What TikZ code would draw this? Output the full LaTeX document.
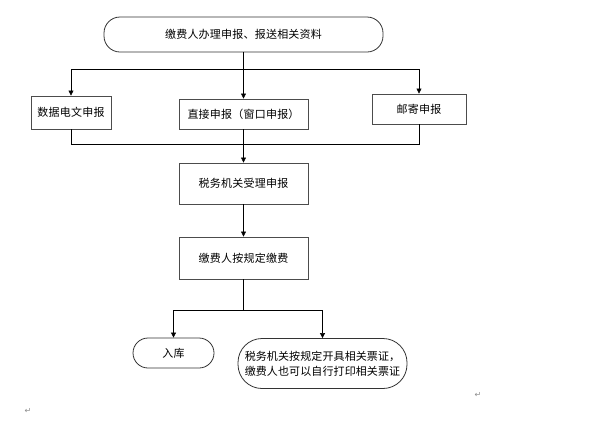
\documentclass[tikz,border=0pt]{standalone}
\usepackage{fontspec}
\setmainfont{Noto Sans CJK SC}[LetterSpace=2]
\newfontfamily\symfont{DejaVu Sans}
\usetikzlibrary{arrows.meta}
\begin{document}
\begin{tikzpicture}[x=1pt,y=-1pt,
  box/.style={draw=black!70,line width=0.9pt,rectangle,inner sep=0pt,font=\fontsize{11}{13}\selectfont},
  rbox/.style={draw=black!80,line width=0.8pt,rounded corners=16pt,inner sep=0pt,font=\fontsize{11}{13}\selectfont},
  conn/.style={draw=black,line width=0.6pt},
  arr/.style={conn,-{Triangle[length=5pt,width=5pt]}},
  ret/.style={text=black!45,font=\symfont\fontsize{8}{8}\selectfont,inner sep=0pt}]
\useasboundingbox (0,0) rectangle (609,424);
\node[rbox,minimum width=279pt,minimum height=35pt] (start) at (243.5,34.5) {缴费人办理申报、报送相关资料};
\node[box,minimum width=80pt,minimum height=33pt] (b1) at (71,112.5) {数据电文申报};
\node[box,minimum width=129pt,minimum height=30pt] (b2) at (243.5,114) {直接申报（窗口申报）};
\node[box,minimum width=94pt,minimum height=30pt] (b3) at (419,109) {邮寄申报};
\node[box,minimum width=129pt,minimum height=41pt] (b4) at (243.5,183.5) {税务机关受理申报};
\node[box,minimum width=129pt,minimum height=42pt] (b5) at (243.5,258) {缴费人按规定缴费};
\node[rbox,rounded corners=15pt,minimum width=81pt,minimum height=30pt] (e1) at (173.5,353) {入库};
\node[rbox,rounded corners=24pt,minimum width=169pt,minimum height=50pt,align=center,font=\fontsize{11}{15}\selectfont\addfontfeature{LetterSpace=1}] (e2) at (322.5,363.5) {税务机关按规定开具相关票证，\\缴费人也可以自行打印相关票证};
\coordinate (s1) at (243.5,69);
\coordinate (s2) at (243.5,144);
\coordinate (s3) at (243.5,310);
\draw[conn] (start.south) -- (s1);
\draw[arr] (s1) -| (b1.north);
\draw[arr] (s1) -- (b2.north);
\draw[arr] (s1) -| (b3.north);
\draw[conn] (b1.south) |- (s2);
\draw[conn] (b3.south) |- (s2);
\draw[conn] (b2.south) -- (s2);
\draw[arr] (s2) -- (b4.north);
\draw[arr] (b4.south) -- (b5.north);
\draw[conn] (b5.south) -- (s3);
\draw[arr] (s3) -| (e1.north);
\draw[arr] (s3) -| (e2.north);
\node[ret] (r1) at (28,411) {↵};
\node[ret] (r2) at (478,395) {↵};
\end{tikzpicture}
\end{document}
